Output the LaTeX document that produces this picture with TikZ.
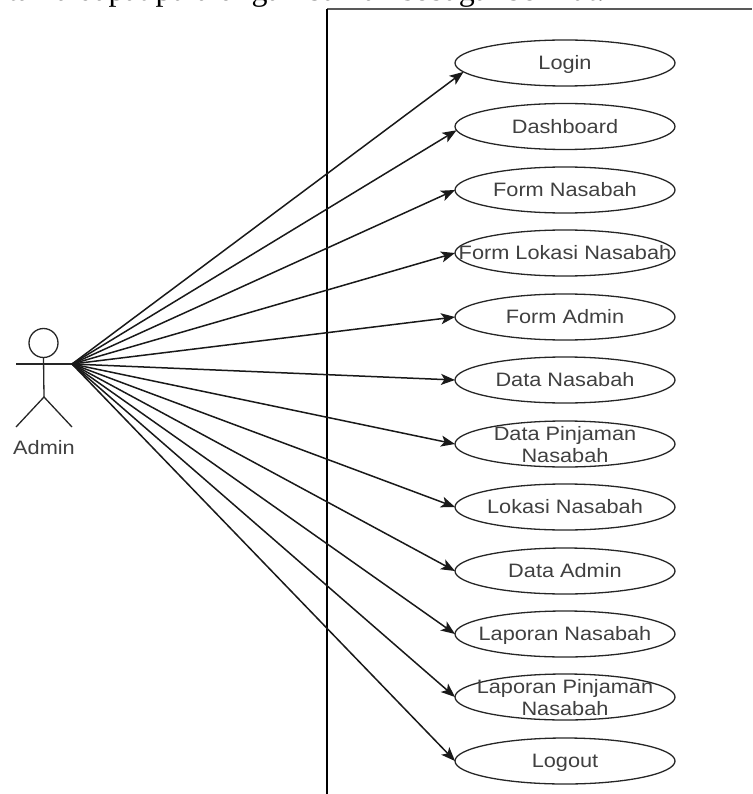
\documentclass[tikz,border=0pt]{standalone}
\usepackage{fontspec}
\setmainfont{Liberation Serif}
\newfontfamily\lblfont[FakeStretch=1.12]{Liberation Sans}
\usetikzlibrary{shapes.geometric,arrows.meta}
\definecolor{lbl}{HTML}{404040}
\tikzset{
  usecase/.style={draw=black!85,line width=1.3pt,ellipse,minimum width=220pt,minimum height=46pt,inner xsep=-50pt,inner ysep=-20pt,outer sep=0pt,
    font=\lblfont\fontsize{19.4}{22}\selectfont,text=lbl,align=center,text height=16pt,text depth=2.4pt},
  twoline/.style={text height=38.4pt,text depth=2.4pt},
  assoc/.style={draw=black!90,line width=1.5pt,-{Stealth[length=14pt,width=11pt,inset=3.5pt]}},
  stick/.style={draw=black!85,line width=1.3pt},
  frameline/.style={line width=1.3pt}
}
\begin{document}
\begin{tikzpicture}[x=1pt,y=-1pt]
\useasboundingbox (0,0) rectangle (752,794);
\begin{scope}
\clip (0,0) rectangle (752,794);
\node[anchor=base west,inner sep=0pt,font=\fontsize{32}{36}\selectfont] (headline) at (-8,0.6) {utama dapat pula di gambarkan sebagai berikut.};
\end{scope}
\coordinate (ftl) at (327,9);
\coordinate (ftr) at (752,9);
\coordinate (fbl) at (327,794);
\draw[frameline,draw=black!65] (ftl) -- (ftr);
\draw[frameline,draw=black] (ftl) -- (fbl);
% actor
\node[stick,circle,minimum size=29pt,inner sep=0pt,outer sep=0pt] (head) at (43.5,343) {};
\coordinate (armL) at (16,364);
\coordinate (armR) at (72,364);
\coordinate (hip) at (44,397);
\coordinate (footL) at (16,427);
\coordinate (footR) at (72,427);
\draw[stick] (head.south) -- (hip);
\draw[stick] (armL) -- (armR);
\draw[stick] (footL) -- (hip) -- (footR);
\node[font=\lblfont\fontsize{19.4}{22}\selectfont,text=lbl,inner sep=0pt] (admin) at (44,448) {Admin};
% use cases
\node[usecase] (u1) at (565,63) {Login};
\node[usecase] (u2) at (565,126.5) {Dashboard};
\node[usecase] (u3) at (565,190) {Form Nasabah};
\node[usecase] (u4) at (565,253) {Form Lokasi Nasabah};
\node[usecase] (u5) at (565,317) {Form Admin};
\node[usecase] (u6) at (565,380) {Data Nasabah};
\node[usecase,twoline] (u7) at (565,444) {Data Pinjaman\\Nasabah};
\node[usecase] (u8) at (565,507) {Lokasi Nasabah};
\node[usecase] (u9) at (565,571) {Data Admin};
\node[usecase] (u10) at (565,634) {Laporan Nasabah};
\node[usecase,twoline] (u11) at (565,697) {Laporan Pinjaman\\Nasabah};
\node[usecase] (u12) at (565,761) {Logout};
% connectors
\draw[assoc] (armR) -- (u1.185);
\draw[assoc] (armR) -- (u2.182);
\foreach \n in {u3,u4,u5,u6,u7,u8,u9,u10,u11,u12}
  \draw[assoc] (armR) -- (\n.west);
\end{tikzpicture}
\end{document}
